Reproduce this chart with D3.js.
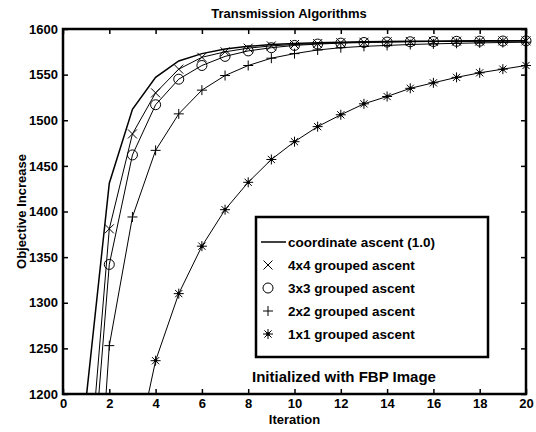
<!DOCTYPE html>
<html>
<head>
<meta charset="utf-8">
<script src="https://cdn.jsdelivr.net/npm/d3@7"></script>
<style>
  body { margin: 0; background: #fff; }
  text { font-family: "Liberation Sans", Arial, Helvetica, sans-serif; font-weight: bold; fill: #000; stroke: none; }
</style>
</head>
<body>
<svg id="chart" width="536" height="432"></svg>
<script>
// data
const iterations = d3.range(1, 21);
const coordAscent = [1195, 1431, 1512, 1547, 1565, 1573, 1578, 1581, 1583, 1584, 1585, 1585.5, 1586, 1586.3, 1586.5, 1586.7, 1586.8, 1587, 1587, 1587];
const grouped4x4 = [1074, 1381, 1485, 1530, 1556, 1569, 1575, 1579, 1581.5, 1583, 1584, 1585, 1585.5, 1586, 1586.3, 1586.5, 1586.7, 1586.8, 1587, 1587];
const grouped3x3 = [1026, 1342, 1462, 1517, 1545, 1560, 1570, 1576, 1579.5, 1582, 1583.5, 1584.5, 1585.2, 1585.7, 1586, 1586.3, 1586.5, 1586.7, 1586.8, 1587];
const grouped2x2 = [874, 1253, 1394, 1467, 1507, 1533, 1549, 1560, 1568, 1573, 1577, 1579.5, 1581, 1582, 1583, 1583.7, 1584.3, 1584.8, 1585.2, 1585.5];
const grouped1x1 = [700, 950, 1118, 1236.5, 1310, 1362, 1402, 1432, 1457, 1476.5, 1493, 1506, 1518, 1526, 1535, 1541, 1547, 1552, 1556, 1560];
const xTicks = d3.range(0, 21, 2);
const yTicks = d3.range(1200, 1601, 50);

const series = [
  { name: "coordinate ascent (1.0)", values: coordAscent, marker: null, width: 1.5 },
  { name: "4x4 grouped ascent", values: grouped4x4, marker: "x", width: 1 },
  { name: "3x3 grouped ascent", values: grouped3x3, marker: "o", width: 1 },
  { name: "2x2 grouped ascent", values: grouped2x2, marker: "+", width: 1 },
  { name: "1x1 grouped ascent", values: grouped1x1, marker: "*", width: 1 }
];

const svg = d3.select("#chart");
const margin = { top: 29, right: 10, bottom: 38, left: 63 };
const width = 536 - margin.left - margin.right;
const height = 432 - margin.top - margin.bottom;

const chartArea = svg.append("g")
  .attr("transform", `translate(${margin.left},${margin.top})`);

const xScale = d3.scaleLinear().domain([0, 20]).range([0, width]);
const yScale = d3.scaleLinear().domain([1200, 1600]).range([height, 0]);

svg.append("defs").append("clipPath").attr("id", "plotClip")
  .append("rect").attr("width", width).attr("height", height);

// axes with inward ticks on all four sides
const tickLen = 5;
chartArea.append("g")
  .attr("transform", `translate(0,${height})`)
  .call(d3.axisBottom(xScale).tickValues(xTicks).tickSize(-tickLen).tickPadding(5).tickFormat(d3.format("d")))
  .call(g => g.selectAll("text").style("font-size", "13px"));
chartArea.append("g")
  .call(d3.axisTop(xScale).tickValues(xTicks).tickSize(-tickLen).tickFormat(""));
chartArea.append("g")
  .call(d3.axisLeft(yScale).tickValues(yTicks).tickSize(-tickLen).tickPadding(5).tickFormat(d3.format("d")))
  .call(g => g.selectAll("text").style("font-size", "13px"));
chartArea.append("g")
  .attr("transform", `translate(${width},0)`)
  .call(d3.axisRight(yScale).tickValues(yTicks).tickSize(-tickLen).tickFormat(""));
chartArea.selectAll(".domain").remove();
chartArea.selectAll(".tick line").attr("stroke", "#000").attr("stroke-width", 1.5);
chartArea.selectAll(".tick text").attr("font-family", null).attr("font-size", null);

// marker drawing helper
function drawMarker(g, type, cx, cy) {
  const s = 4.5;
  if (type === "x") {
    g.append("path").attr("d", `M${cx - s},${cy - s}L${cx + s},${cy + s}M${cx - s},${cy + s}L${cx + s},${cy - s}`);
  } else if (type === "o") {
    g.append("circle").attr("cx", cx).attr("cy", cy).attr("r", 5);
  } else if (type === "+") {
    g.append("path").attr("d", `M${cx - 5},${cy}L${cx + 5},${cy}M${cx},${cy - 5}L${cx},${cy + 5}`);
  } else if (type === "*") {
    g.append("path").attr("d", `M${cx - 5},${cy}L${cx + 5},${cy}M${cx},${cy - 5}L${cx},${cy + 5}` +
      `M${cx - 3.6},${cy - 3.6}L${cx + 3.6},${cy + 3.6}M${cx - 3.6},${cy + 3.6}L${cx + 3.6},${cy - 3.6}`);
    g.append("circle").attr("cx", cx).attr("cy", cy).attr("r", 1.3).attr("fill", "#000");
  }
}

const line = d3.line()
  .x((d, i) => xScale(iterations[i]))
  .y(d => yScale(d));

const lines = chartArea.append("g").attr("clip-path", "url(#plotClip)");
series.forEach(s => {
  lines.append("path")
    .attr("d", line(s.values))
    .attr("fill", "none")
    .attr("stroke", "#000")
    .attr("stroke-width", s.width);
});

const markers = chartArea.append("g")
  .attr("fill", "none").attr("stroke", "#000").attr("stroke-width", 1);
series.filter(s => s.marker).forEach(s => {
  s.values.forEach((v, i) => {
    if (v >= 1200) drawMarker(markers, s.marker, xScale(iterations[i]), yScale(v));
  });
});

// box
chartArea.append("rect")
  .attr("width", width).attr("height", height)
  .attr("fill", "none").attr("stroke", "#000").attr("stroke-width", 2.5);

// legend
const legend = svg.append("g").attr("transform", "translate(256,217)");
legend.append("rect")
  .attr("width", 232).attr("height", 140)
  .attr("fill", "#fff").attr("stroke", "#000").attr("stroke-width", 2.5);
const legendItems = legend.selectAll(".legend")
  .data(series)
  .enter()
  .append("g")
  .attr("class", "legend")
  .attr("transform", (d, i) => `translate(0,${25 + i * 23})`);
legendItems.each(function (d) {
  const g = d3.select(this).append("g")
    .attr("fill", "none").attr("stroke", "#000").attr("stroke-width", 1);
  if (d.marker) drawMarker(g, d.marker, 12, 0);
  else g.append("line").attr("x1", 5).attr("x2", 30).attr("stroke-width", 1.5);
});
legendItems.append("text")
  .attr("x", 32)
  .attr("dy", "0.35em")
  .style("font-size", "13.5px")
  .text(d => d.name);

// titles and labels
svg.append("text")
  .attr("x", 289).attr("y", 18)
  .attr("text-anchor", "middle")
  .style("font-size", "13px")
  .text("Transmission Algorithms");
svg.append("text")
  .attr("x", margin.left + width / 2).attr("y", 424)
  .attr("text-anchor", "middle")
  .style("font-size", "13px")
  .text("Iteration");
svg.append("text")
  .attr("transform", `translate(26,${margin.top + height / 2}) rotate(-90)`)
  .attr("text-anchor", "middle")
  .style("font-size", "13px")
  .text("Objective Increase");
svg.append("text")
  .attr("x", 344).attr("y", 382)
  .attr("text-anchor", "middle")
  .style("font-size", "15px")
  .text("Initialized with FBP Image");
</script>
</body>
</html>
